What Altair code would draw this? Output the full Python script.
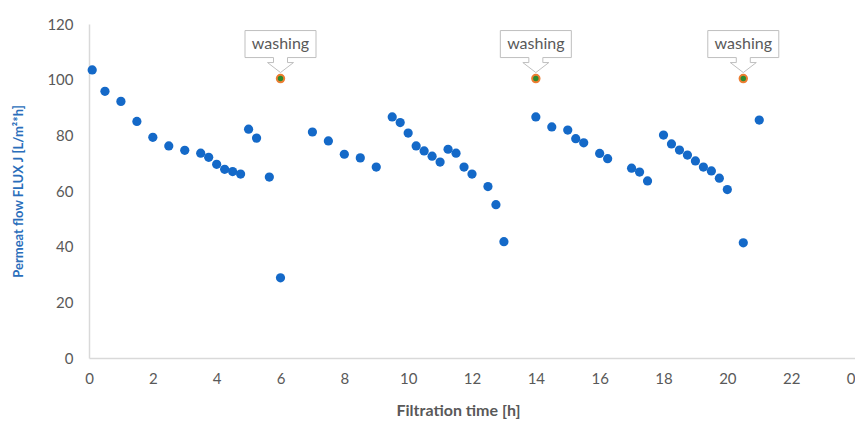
import altair as alt
import pandas as pd

# Filtration time [h] and permeate flux J [L/m2*h]
time_h = [0.1, 0.5, 1.0, 1.5, 2.0, 2.5, 3.0, 3.5, 3.75, 4.0, 4.25, 4.5, 4.75, 5.0, 5.25, 5.65, 6.0,
          7.0, 7.5, 8.0, 8.5, 9.0, 9.5, 9.75, 10.0, 10.25, 10.5, 10.75, 11.0, 11.25, 11.5, 11.75, 12.0,
          12.5, 12.75, 13.0,
          14.0, 14.5, 15.0, 15.25, 15.5, 16.0, 16.25, 17.0, 17.25, 17.5,
          18.0, 18.25, 18.5, 18.75, 19.0, 19.25, 19.5, 19.75, 20.0, 20.5, 21.0]
flux = [103.5, 95.8, 92.2, 85.0, 79.3, 76.2, 74.6, 73.6, 72.1, 69.6, 67.8, 67.0, 66.1, 82.2, 79.0, 65.0, 28.8,
        81.2, 78.0, 73.2, 71.9, 68.6, 86.6, 84.6, 80.8, 76.2, 74.4, 72.5, 70.4, 75.0, 73.6, 68.6, 66.1,
        61.6, 55.1, 41.8,
        86.6, 83.0, 81.9, 78.8, 77.3, 73.5, 71.6, 68.2, 66.8, 63.6,
        80.1, 76.9, 74.7, 72.9, 70.8, 68.6, 67.2, 64.6, 60.5, 41.4, 85.5]

# Washing events
wash_time = [6.0, 14.0, 20.5]
wash_flux = [100.4, 100.4, 100.4]
wash_label = ["washing", "washing", "washing"]

x_ticks = [0, 2, 4, 6, 8, 10, 12, 14, 16, 18, 20, 22, 24]
y_ticks = [0, 20, 40, 60, 80, 100, 120]

df = pd.DataFrame({"t": time_h, "J": flux})
dw = pd.DataFrame({"t": wash_time, "J": wash_flux, "label": wash_label})

FONT = "Lato"
GRAY = "#595959"

x_scale = alt.Scale(domain=[0, 24], nice=False)
y_scale = alt.Scale(domain=[0, 120], nice=False)

x_enc = alt.X("t:Q", scale=x_scale,
              axis=alt.Axis(title="Filtration time [h]", values=x_ticks,
                            labelExpr="datum.value == 24 ? '0' : datum.label",
                            labelAlign={"condition": {"test": "datum.value == 24", "value": "right"},
                                        "value": "center"},
                            grid=False, ticks=False, domainColor="#d9d9d9", domainWidth=1.5,
                            labelFont=FONT, labelFontSize=15, labelColor=GRAY, labelPadding=13,
                            titleFont=FONT, titleFontSize=16, titleFontWeight="bold",
                            titleColor=GRAY, titleX=369, titleY=52, titleBaseline="middle",
                            labelFlush=False, labelOverlap=False))
y_enc = alt.Y("J:Q", scale=y_scale,
              axis=alt.Axis(title="Permeat flow FLUX  J [L/m²*h]", values=y_ticks,
                            grid=False, ticks=False, domainColor="#d9d9d9", domainWidth=1.5,
                            labelFont=FONT, labelFontSize=15, labelColor=GRAY, labelPadding=16,
                            titleFont=FONT, titleFontSize=13, titleFontWeight="bold",
                            titleColor="#2a6ebb", titlePadding=21))

points = alt.Chart(df).mark_circle(size=85, color="#1469c8", opacity=1).encode(x=x_enc, y=y_enc)

callout_path = ("M -0.71 -0.96 L 0.71 -0.96 L 0.71 -0.42 L 0.14 -0.42 L 0.14 -0.32 "
                "L 0.26 -0.32 L 0 -0.12 L -0.26 -0.32 L -0.14 -0.32 L -0.14 -0.42 "
                "L -0.71 -0.42 Z")

callouts = alt.Chart(dw).mark_point(shape=callout_path, size=10000, filled=True,
                                    fill="white", stroke="#bfbfbf", strokeWidth=1,
                                    opacity=1).encode(
    x=alt.X("t:Q", scale=x_scale), y=alt.Y("J:Q", scale=y_scale))

labels = alt.Chart(dw).mark_text(font=FONT, fontSize=16, color=GRAY, dy=-35,
                                 baseline="middle").encode(
    x=alt.X("t:Q", scale=x_scale), y=alt.Y("J:Q", scale=y_scale), text="label:N")

wash = alt.Chart(dw).mark_point(shape="circle", size=55, filled=True, fill="#2e8b2e",
                                stroke="#ed7d31", strokeWidth=2, opacity=1).encode(
    x=alt.X("t:Q", scale=x_scale), y=alt.Y("J:Q", scale=y_scale))

chart = alt.layer(points, callouts, labels, wash).properties(
    width=766, height=334,
    autosize=alt.AutoSizeParams(type="none"),
    padding={"left": 81, "top": 16, "right": 0, "bottom": 62},
).configure_view(stroke=None)

chart.save("out.html", embed_options={"renderer": "svg", "actions": False})
